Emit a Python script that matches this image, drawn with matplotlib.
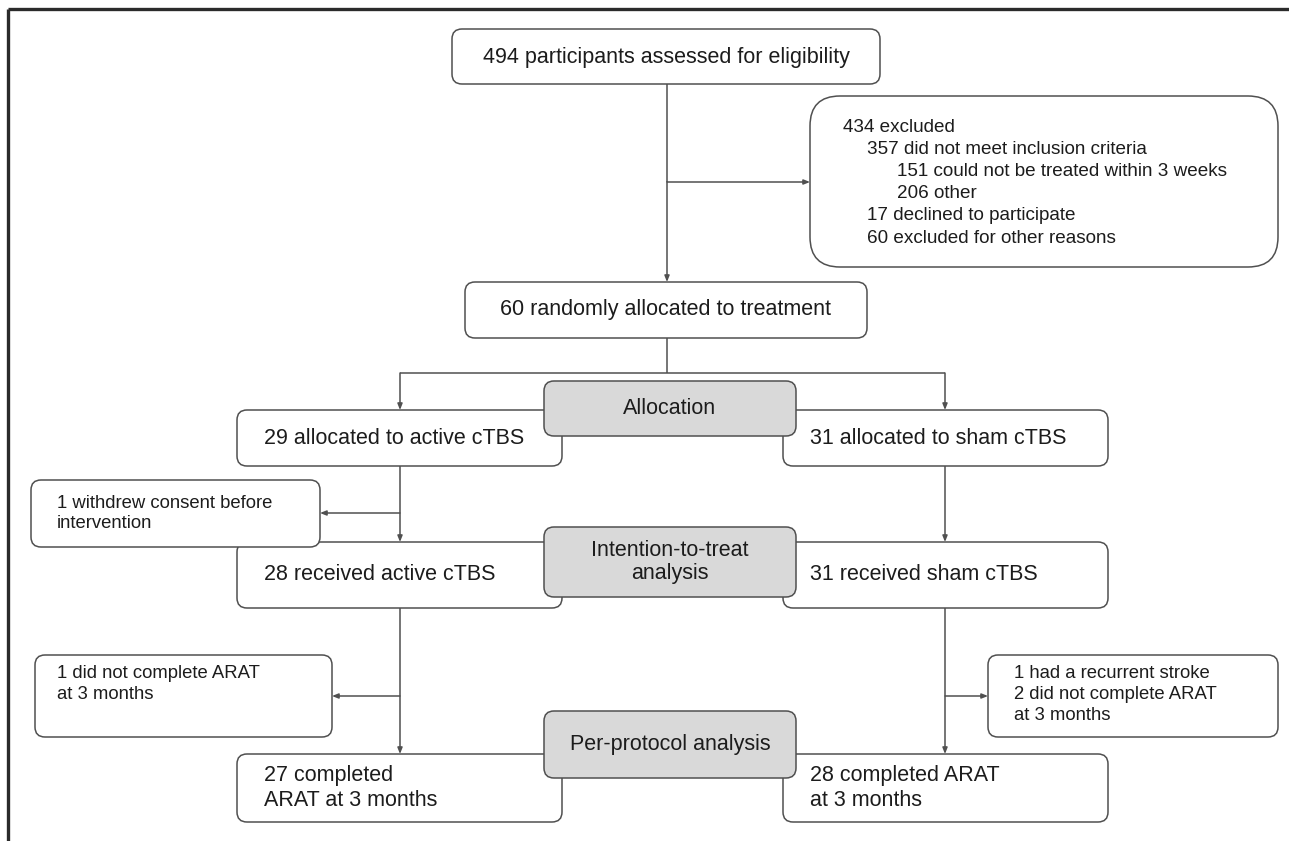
import matplotlib.pyplot as plt
from matplotlib.patches import FancyBboxPatch

plt.rcParams['font.family'] = ['Liberation Sans', 'DejaVu Sans']

# --- texts of the flow diagram ---
screened = "494 participants assessed for eligibility"
randomised = "60 randomly allocated to treatment"
excluded_lines = ["434 excluded",
                  "357 did not meet inclusion criteria",
                  "151 could not be treated within 3 weeks",
                  "206 other",
                  "17 declined to participate",
                  "60 excluded for other reasons"]
excluded_levels = [0, 1, 2, 2, 1, 1]
stages = ["Allocation", "Intention-to-treat\nanalysis", "Per-protocol analysis"]
active_arm = ["29 allocated to active cTBS", "28 received active cTBS",
              "27 completed\nARAT at 3 months"]
sham_arm = ["31 allocated to sham cTBS", "31 received sham cTBS",
            "28 completed ARAT\nat 3 months"]
active_lost = ["1 withdrew consent before\nintervention",
               "1 did not complete ARAT\nat 3 months"]
sham_lost = "1 had a recurrent stroke\n2 did not complete ARAT\nat 3 months"

# --- layout (pixels) ---
W, H = 1289, 841
EDGE = "#505050"
TXT = "#1c1c1c"
GRAY = "#d9d9d9"
LW = 1.1
FS = 15.5
FS_SIDE = 13.3

fig = plt.figure(figsize=(W / 100, H / 100), dpi=100)
ax = fig.add_axes([0, 0, 1, 1])
ax.set_xlim(0, W)
ax.set_ylim(H, 0)
ax.axis("off")


def box(x0, x1, y0, y1, r=10, fill="white", z=2):
    p = FancyBboxPatch((x0, y0), x1 - x0, y1 - y0,
                       boxstyle=f"round,pad=0,rounding_size={r}",
                       fc=fill, ec=EDGE, lw=LW, zorder=z)
    ax.add_patch(p)


def line(xs, ys):
    ax.plot(xs, ys, color=EDGE, lw=LW, zorder=1, solid_capstyle="butt")


def arrow(x0, y0, x1, y1):
    ax.annotate("", xy=(x1, y1), xytext=(x0, y0),
                arrowprops=dict(arrowstyle="-|>,head_length=0.45,head_width=0.18",
                                mutation_scale=8, color=EDGE, lw=LW,
                                shrinkA=0, shrinkB=0), zorder=1)


# outer frame (only top and left visible)
ax.plot([8, W], [9, 9], color="#2b2b2b", lw=2.4, zorder=5, solid_capstyle="butt")
ax.plot([8, 8], [9, H], color="#2b2b2b", lw=2.4, zorder=5, solid_capstyle="butt")

cx = 667
# top box
box(452, 880, 29, 84)
ax.text(666, 57, screened, ha="center", va="center", fontsize=FS, color=TXT, zorder=3)

# excluded box
box(810, 1278, 96, 267, r=30)
indent = [843, 867, 897]
for i, (t, lv) in enumerate(zip(excluded_lines, excluded_levels)):
    ax.text(indent[lv], 127 + 22.2 * i, t, ha="left", va="center",
            fontsize=13.6, color=TXT, zorder=3)

line([cx, cx], [84, 182])
arrow(cx, 182, 810, 182)
arrow(cx, 182, cx, 282)

# randomised box
box(465, 867, 282, 338)
ax.text(666, 310, randomised, ha="center", va="center", fontsize=FS, color=TXT, zorder=3)

xa, xs = 400, 945
line([cx, cx], [338, 373])
line([xa, xs], [373, 373])
arrow(xa, 373, xa, 410)
arrow(xs, 373, xs, 410)

rows = [(410, 466), (542, 608), (754, 822)]
gray_rows = [(381, 436), (527, 597), (711, 778)]

for (y0, y1), ta, ts in zip(rows, active_arm, sham_arm):
    box(237, 562, y0, y1)
    box(783, 1108, y0, y1)
    ax.text(264, (y0 + y1) / 2, ta, ha="left", va="center", fontsize=FS,
            color=TXT, linespacing=1.2, zorder=3)
    ax.text(810, (y0 + y1) / 2, ts, ha="left", va="center", fontsize=FS,
            color=TXT, linespacing=1.2, zorder=3)

for (y0, y1), t in zip(gray_rows, stages):
    box(544, 796, y0, y1, fill=GRAY, z=4)
    ax.text(670, (y0 + y1) / 2, t, ha="center", va="center", fontsize=FS,
            color=TXT, linespacing=1.15, zorder=6)

# active arm losses
arrow(xa, 513, 320, 513)
box(31, 320, 480, 547)
ax.text(57, 513.5, active_lost[0], ha="left", va="center", fontsize=FS_SIDE,
        color=TXT, linespacing=1.3, zorder=3)
arrow(xs, 466, xs, 542)
arrow(xa, 466, xa, 542)

arrow(xa, 696, 332, 696)
arrow(xa, 608, xa, 754)
box(35, 332, 655, 737)
ax.text(57, 665, active_lost[1], ha="left", va="top", fontsize=FS_SIDE,
        color=TXT, linespacing=1.3, zorder=3)

# sham arm losses
arrow(xs, 696, 988, 696)
arrow(xs, 608, xs, 754)
box(988, 1278, 655, 737)
ax.text(1014, 665, sham_lost, ha="left", va="top", fontsize=FS_SIDE,
        color=TXT, linespacing=1.3, zorder=3)

fig.savefig("out.png", dpi=100, facecolor="white")
